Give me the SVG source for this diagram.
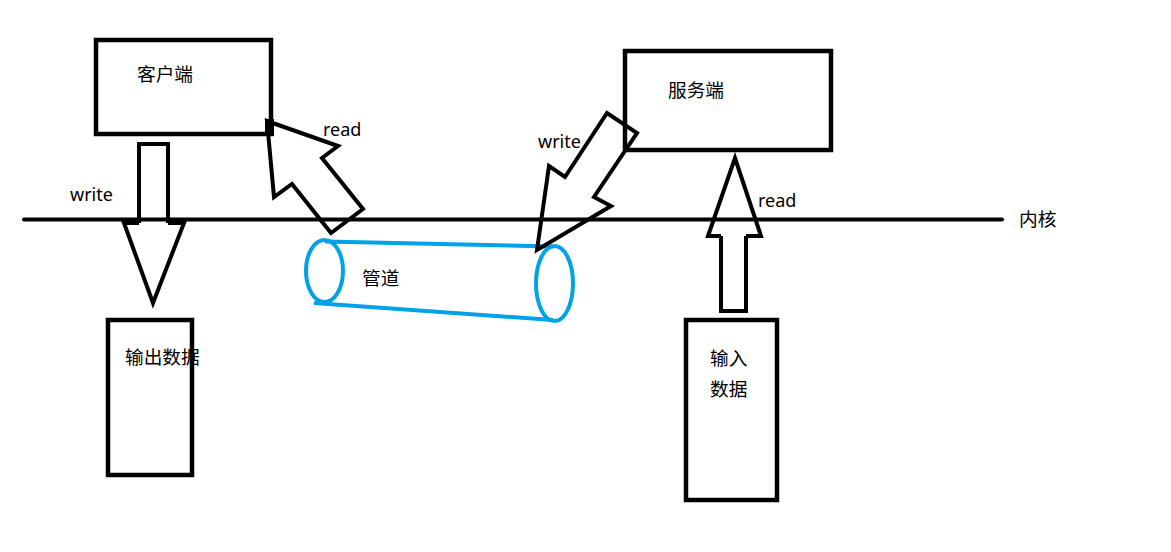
<svg xmlns="http://www.w3.org/2000/svg" width="1171" height="552" viewBox="0 0 1171 552">
<style>
.box{fill:none;stroke:#000;stroke-width:4.5}
.arr{fill:none;stroke:#000;stroke-width:4;stroke-linejoin:miter}
.pipe{fill:none;stroke:#00a2e8;stroke-width:4}
.t{font-family:"Noto Sans","Noto Sans CJK SC",sans-serif;font-size:18px;fill:#000}
.c{font-family:"Noto Sans CJK SC","Noto Sans",sans-serif;font-size:18.7px;fill:#000}
</style>
<rect width="1171" height="552" fill="#fff"/>
<g id="kernel">
<line x1="24" y1="219.5" x2="1002" y2="219.5" stroke="#000" stroke-width="4" stroke-linecap="round"/>
<text class="c" x="1019" y="226">内核</text>
</g>
<g id="pipe">
<line class="pipe" x1="325" y1="241.5" x2="553" y2="246.5"/>
<line class="pipe" x1="314" y1="303" x2="553" y2="320"/>
<ellipse class="pipe" cx="324.5" cy="271" rx="18.5" ry="31"/>
<ellipse class="pipe" cx="554.5" cy="283.5" rx="18.5" ry="37.5"/>
<text class="c" x="362" y="285">管道</text>
</g>
<g id="client">
<rect class="box" x="96" y="40" width="175" height="94"/>
<rect x="265" y="119" width="9" height="17" fill="#000"/>
<text class="c" x="137" y="81">客户端</text>
</g>
<g id="server">
<rect class="box" x="625" y="51" width="206" height="99"/>
<text class="c" x="668" y="97">服务端</text>
</g>
<g id="output">
<rect class="box" x="108" y="320" width="84" height="155"/>
<text class="c" x="125" y="364">输出数据</text>
</g>
<g id="input">
<rect class="box" x="686" y="320" width="91" height="180"/>
<text class="c" x="710" y="365">输入</text>
<text class="c" x="710" y="396">数据</text>
</g>
<g id="connectors">
<path class="arr" d="M139,223 V144 H168 V223"/>
<path class="arr" d="M139,223 H124 L153,303 L184,223 H168"/>
<text class="t" x="70" y="201">write</text>
<polygon class="arr" points="267,121 338,146 322,158 363,209 331,233 292,184 274,197"/>
<text class="t" x="323" y="136">read</text>
<polygon class="arr" points="537,250 549,166 565,177 607,113 637,133 594,197 611,206"/>
<text class="t" x="538" y="148">write</text>
<path class="arr" d="M721,236 V311 H746 V236"/>
<path class="arr" d="M721,236 H708 L735,158 L761,236 H746"/>
<text class="t" x="758" y="207">read</text>
</g>
</svg>
